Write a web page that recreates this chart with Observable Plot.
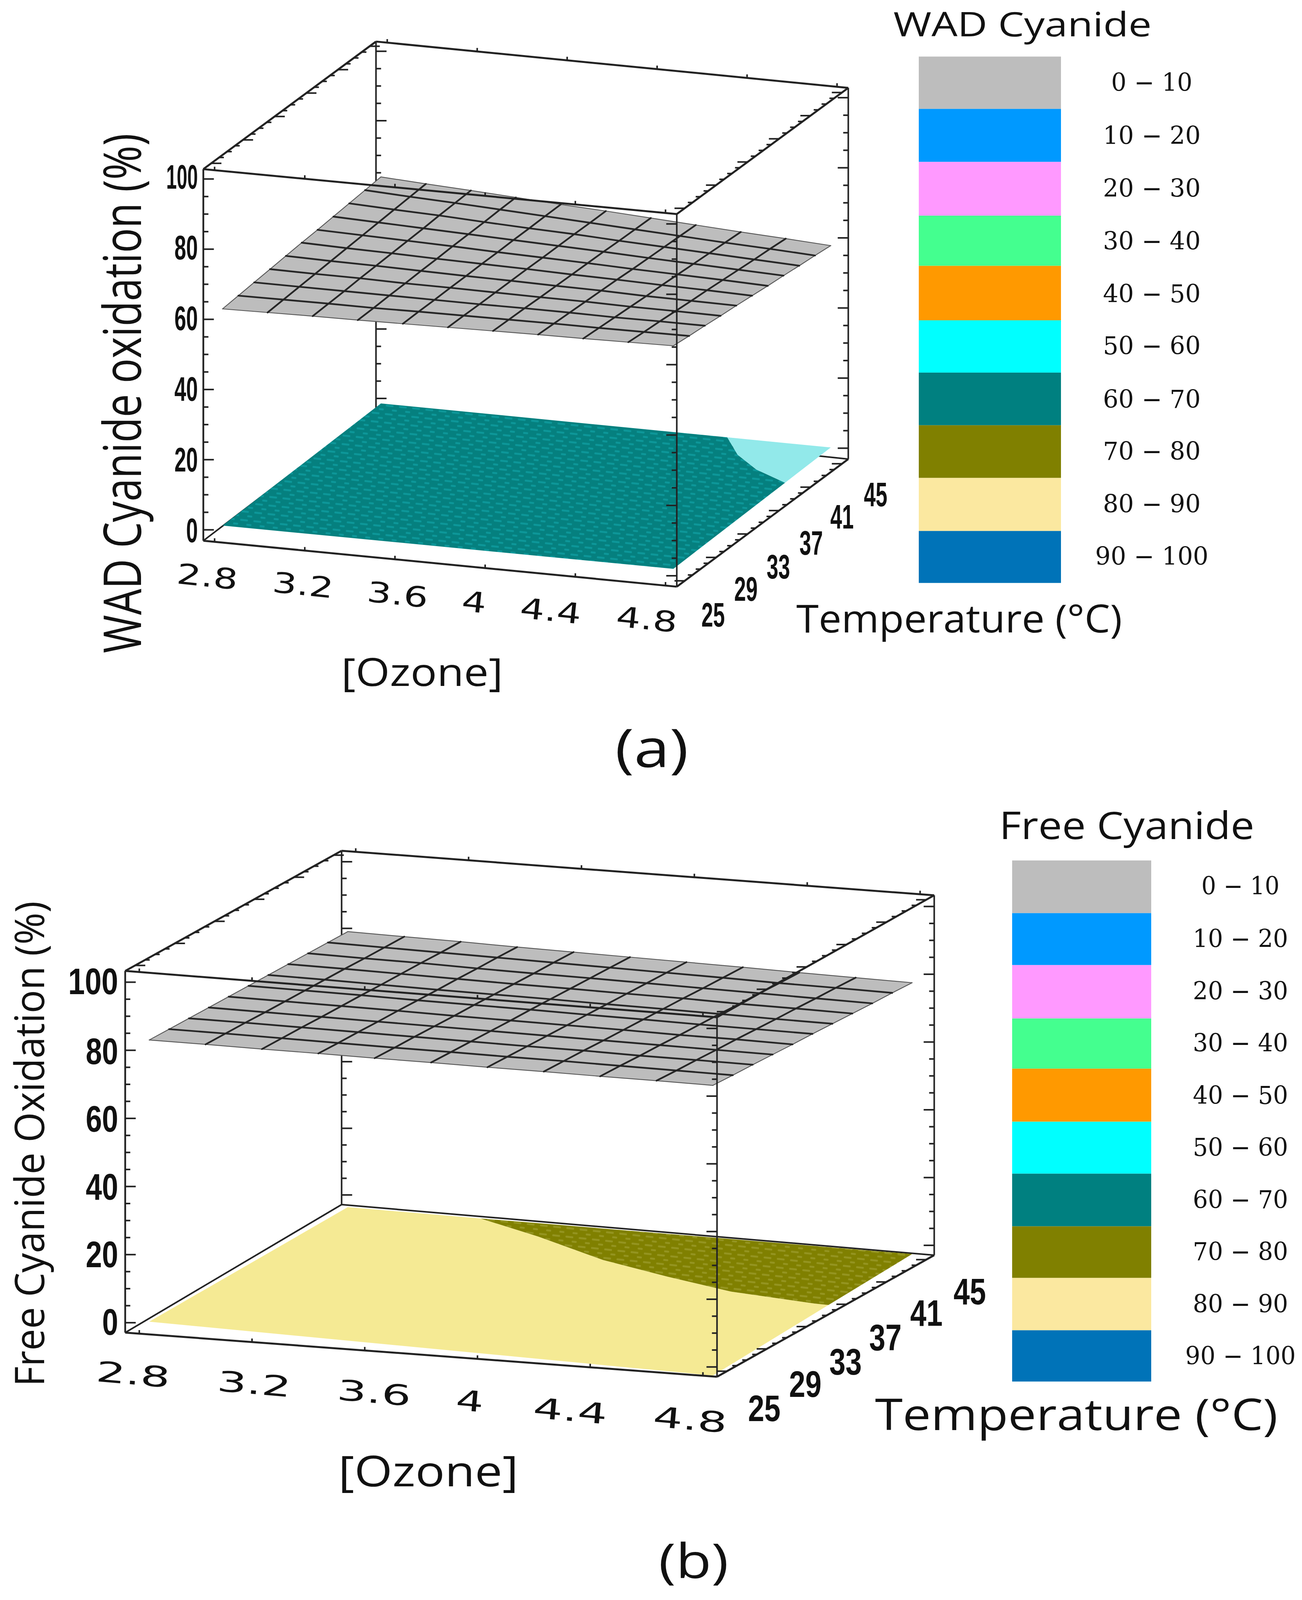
<!DOCTYPE html>
<html>
<head>
<meta charset="utf-8">
<style>html,body{margin:0;padding:0;background:#fff} svg{display:block}</style>
<script src="https://cdn.jsdelivr.net/npm/d3@7"></script>
<script src="https://cdn.jsdelivr.net/npm/@observablehq/plot@0.6"></script>
</head>
<body>
<script>
// ---------- data ----------
const ozoneLevels = [2.8,3.0,3.2,3.4,3.6,3.8,4.0,4.2,4.4,4.6,4.8];
const temperatureLevels = [25,27,29,31,33,35,37,39,41,43,45];
const ozoneTicks = [2.8,3.2,3.6,4,4.4,4.8];
const temperatureTicks = [25,29,33,37,41,45];
const oxidationTicks = [0,20,40,60,80,100];
const legendLabels = ["0 − 10","10 − 20","20 − 30","30 − 40","40 − 50","50 − 60","60 − 70","70 − 80","80 − 90","90 − 100"];
const legendColors = ["#bdbdbd","#0099ff","#ff99ff","#44ff8f","#ff9900","#00ffff","#008080","#808000","#fbe8a0","#0073b8"];

const wadUpper = [
 [61.6,61.8,62.0,62.1,62.3,62.5,62.7,62.9,63.0,63.2,63.4],
 [62.0,62.1,62.2,62.2,62.4,62.5,62.6,62.7,62.7,62.8,62.9],
 [62.4,62.4,62.4,62.4,62.4,62.4,62.5,62.5,62.4,62.5,62.5],
 [62.8,62.7,62.7,62.5,62.5,62.4,62.3,62.3,62.1,62.1,62.0],
 [63.2,63.0,62.9,62.7,62.5,62.4,62.2,62.1,61.8,61.7,61.6],
 [63.6,63.3,63.1,62.8,62.6,62.4,62.1,61.9,61.6,61.4,61.1],
 [63.9,63.6,63.3,63.0,62.6,62.3,62.0,61.6,61.3,61.0,60.6],
 [64.3,63.9,63.5,63.1,62.7,62.3,61.9,61.4,61.0,60.6,60.2],
 [64.7,64.2,63.8,63.2,62.7,62.3,61.7,61.2,60.7,60.2,59.7],
 [65.1,64.5,64.0,63.4,62.8,62.2,61.6,61.0,60.4,59.9,59.3],
 [65.5,64.8,64.2,63.5,62.8,62.2,61.5,60.8,60.1,59.5,58.8]
];
const freeUpper = [
 [81.7,81.7,81.6,81.6,81.5,81.5,81.4,81.4,81.3,81.3,81.2],
 [81.6,81.6,81.5,81.4,81.3,81.3,81.2,81.2,81.1,81.0,80.9],
 [81.5,81.5,81.4,81.3,81.2,81.1,81.0,81.0,80.8,80.8,80.7],
 [81.4,81.3,81.2,81.1,81.0,80.9,80.8,80.7,80.6,80.5,80.4],
 [81.3,81.2,81.1,81.0,80.8,80.7,80.6,80.5,80.3,80.3,80.1],
 [81.2,81.1,81.0,80.8,80.7,80.6,80.4,80.3,80.1,80.0,79.9],
 [81.1,81.0,80.8,80.6,80.5,80.4,80.2,80.1,79.9,79.7,79.6],
 [81.0,80.9,80.7,80.5,80.3,80.2,80.0,79.9,79.6,79.5,79.3],
 [80.9,80.7,80.6,80.3,80.1,80.0,79.8,79.6,79.4,79.2,79.0],
 [80.8,80.6,80.4,80.2,80.0,79.8,79.6,79.4,79.1,79.0,78.8],
 [80.7,80.5,80.3,80.0,79.8,79.6,79.4,79.2,78.9,78.7,78.5]
];
// lower response regions: ozone, temperature, oxidation along each outline
const wadTealOzone = [2.8,2.8,4.34,4.47,4.62,4.8,4.8];
const wadTealTemp  = [25,45,45,42.6,40.7,39.2,25];
const wadTealZ     = [-0.2,0.3,1.0,0.95,0.9,0.85,0];
const wadPaleOzone = [4.34,4.8,4.8,4.62,4.47];
const wadPaleTemp  = [45,45,39.2,40.7,42.6];
const wadPaleZ     = [1.0,1.2,0.85,0.9,0.95];
const freeYellowOzone = [2.8,2.8,3.27,3.545,3.87,4.157,4.43,4.75,4.8,4.8];
const freeYellowTemp  = [25,45,45,43,40.3,38.65,37.3,36.6,36.6,25];
const freeYellowZ     = [-1.1,-1.9,-1.9,-1.9,-2,-2.2,-2.5,-2.7,-2.8,-4.5];
const freeOliveOzone = [3.27,4.8,4.8,4.75,4.43,4.157,3.87,3.545];
const freeOliveTemp  = [45,45,36.6,36.6,37.3,38.65,40.3,43];
const freeOliveZ     = [-1.9,-1.6,-2.8,-2.7,-2.5,-2.2,-2,-1.9];

// ---------- layout ----------
const W = 3333, H = 4526;
// the picture fits the window's real height: the y scale and the text shrink together
const plotHeight = Math.min(H, window.innerHeight || H);
const k = plotHeight / H;
const ink = "#222";
const sansFont = "'Open Sans','Noto Sans',sans-serif";
const panels = [
 { zDomain:[-3.1,102.8],
   corners:{FLB:[520,1529],FLT:[520,478],FRB:[1732,1659],FRT:[1732,605],BLB:[962,1157],BLT:[962,117],BRB:[2171,1298],BRT:[2171,248]},
   upper:wadUpper,
   regions:[
     {fill:"url(#tealTex)",o:wadTealOzone,t:wadTealTemp,z:wadTealZ},
     {fill:"#92e9ea",o:wadPaleOzone,t:wadPaleTemp,z:wadPaleZ}],
   xTickPos:[[530,1633],[775,1657],[1017,1684],[1213,1705],[1409,1730],[1655,1754]], xTickLen:[157,63], xTickRot:6, xTickSize:80,
   tTickPos:[[1825,1741],[1909,1668],[1992,1605],[2076,1538],[2155,1463],[2241,1401]], numW:60, numSize:97,
   zTickPos:[[506,1502],[506,1302],[506,1102],[506,902],[506,702],[506,502]], zLen:[30,60,81],
   yTitle:{text:"WAD Cyanide oxidation (%)",x:318,y:1112,len:1470,size:133},
   ozone:{x:1080,y:1905,len:414,size:110},
   temp:{x:2455,y:1753,len:834,size:110},
   tag:{text:"(a)",x:1668,y:2122,len:188,size:150},
   legTitle:{text:"WAD Cyanide",x:2617,y:72,len:661,size:96},
   legX:[2352,2716], legEdges:[160,308,458,610,752,906,1054,1203,1352,1502,1649],
   legLabelX:2948, legLabelY:[235,385,534,683,832,979,1131,1278,1427,1575], legLen:[208,250,290]
 },
 { zDomain:[-2.9,103.3],
   corners:{FLB:[320,3769],FLT:[320,2746],FRB:[1835,3894],FRT:[1835,2877],BLB:[874,3407],BLT:[874,2406],BRB:[2391,3550],BRT:[2391,2532]},
   upper:freeUpper,
   regions:[
     {fill:"#f5ea94",o:freeYellowOzone,t:freeYellowTemp,z:freeYellowZ},
     {fill:"url(#oliveTex)",o:freeOliveOzone,t:freeOliveTemp,z:freeOliveZ}],
   xTickPos:[[340,3890],[650,3917],[957,3942],[1202,3965],[1459,3993],[1766,4018]], xTickLen:[190,71], xTickRot:5, xTickSize:80,
   tTickPos:[[1956,3986],[2061,3917],[2164,3854],[2266,3786],[2371,3716],[2482,3655]], numW:83, numSize:105,
   zTickPos:[[302,3741],[302,3550],[302,3359],[302,3167],[302,2976],[302,2778]], zLen:[41,83,128],
   yTitle:{text:"Free Cyanide Oxidation (%)",x:79,y:3235,len:1373,size:105},
   ozone:{x:1096,y:4165,len:461,size:120},
   temp:{x:2755,y:4005,len:1031,size:124},
   tag:{text:"(b)",x:1775,y:4420,len:179,size:135},
   legTitle:{text:"Free Cyanide",x:2884,y:2338,len:653,size:108},
   legX:[2591,2947], legEdges:[2434,2583,2730,2881,3023,3173,3320,3469,3615,3763,3908],
   legLabelX:3175, legLabelY:[2507,2657,2805,2952,3100,3247,3395,3542,3690,3837], legLen:[200,244,283]
 }
];

const textLengths = [];
function panelMarks(p){
  const [zMin,zMax] = p.zDomain;
  const c = p.corners;
  const ozMin = 2.75, ozMax = 4.85, tMin = 24, tMax = 45.8;
  const lerp = (a,b,f)=>[a[0]+(b[0]-a[0])*f, a[1]+(b[1]-a[1])*f];
  // trilinear projection of (ozone, temperature, oxidation) on the drawn box
  const project = (o,t,z)=>{
    const u=(o-ozMin)/(ozMax-ozMin), v=(t-tMin)/(tMax-tMin), w=(z-zMin)/(zMax-zMin);
    const bottom = lerp(lerp(c.FLB,c.FRB,u), lerp(c.BLB,c.BRB,u), v);
    const top    = lerp(lerp(c.FLT,c.FRT,u), lerp(c.BLT,c.BRT,u), v);
    return lerp(bottom,top,w);
  };
  const label = (rows,opts)=>{
    const vertical = opts.rotate === -90;
    rows.forEach(r=>textLengths.push(vertical ? r.len*k : r.len));
    return Plot.text(rows,{x:"x",y:"y",text:"text",rotate:opts.rotate||0,fontSize:vertical?opts.size:opts.size*k,fontFamily:opts.family||sansFont,fontWeight:opts.weight||"normal",fill:opts.fill||"#111",textAnchor:opts.anchor||"middle",lineAnchor:"middle"});
  };
  const seg = (a,b,sw=5)=>Plot.link([0],{x1:()=>c[a][0],y1:()=>c[a][1],x2:()=>c[b][0],y2:()=>c[b][1],stroke:ink,strokeWidth:sw});
  const links = (rows,sw=4)=>Plot.link(rows,{x1:"x1",y1:"y1",x2:"x2",y2:"y2",stroke:ink,strokeWidth:sw});

  // ticks
  const zVals = d3.range(0,101,5);
  const zTickRows = (u,v,dir)=>zVals.map(z=>{
    const base = lerp(lerp(lerp(c.FLB,c.FRB,u),lerp(c.BLB,c.BRB,u),v),lerp(lerp(c.FLT,c.FRT,u),lerp(c.BLT,c.BRT,u),v),(z-zMin)/(zMax-zMin));
    const len = z%20===0?27:13;
    return {x1:base[0],y1:base[1],x2:base[0]+dir*len,y2:base[1]};
  });
  const tVals = d3.range(25,46,1);
  const tTickRows = (a,b,dir)=>tVals.map(t=>{
    const base = lerp(c[a],c[b],(t-tMin)/(tMax-tMin));
    const len = (t-25)%4===0?26:12;
    return {x1:base[0],y1:base[1],x2:base[0]+dir*len,y2:base[1]};
  });
  const oTickRows = (a,b)=>ozoneTicks.map(o=>{
    const base = lerp(c[a],c[b],(o-ozMin)/(ozMax-ozMin));
    return {x1:base[0],y1:base[1],x2:base[0],y2:base[1]-10};
  });

  // surfaces
  const regionRows = r=>r.o.map((o,i)=>{const q=project(o,r.t[i],r.z[i]);return {x:q[0],y:q[1]};});
  const mat = p.upper, n = ozoneLevels.length;
  const perim = [];
  for(let i=0;i<n;i++) perim.push([ozoneLevels[i],temperatureLevels[0],mat[0][i]]);
  for(let j=1;j<n;j++) perim.push([ozoneLevels[n-1],temperatureLevels[j],mat[j][n-1]]);
  for(let i=n-2;i>=0;i--) perim.push([ozoneLevels[i],temperatureLevels[n-1],mat[n-1][i]]);
  for(let j=n-2;j>0;j--) perim.push([ozoneLevels[0],temperatureLevels[j],mat[j][0]]);
  const perimRows = perim.map(a=>{const q=project(...a);return {x:q[0],y:q[1]};});
  const mesh = [];
  temperatureLevels.forEach((t,j)=>ozoneLevels.forEach((o,i)=>{const q=project(o,t,mat[j][i]);mesh.push({x:q[0],y:q[1],k:"t"+j,edge:j===0||j===n-1});}));
  ozoneLevels.forEach((o,i)=>temperatureLevels.forEach((t,j)=>{const q=project(o,t,mat[j][i]);mesh.push({x:q[0],y:q[1],k:"o"+i,edge:i===0||i===n-1});}));

  // legend
  const legendRows = legendLabels.map((l,i)=>({label:l,y1:p.legEdges[i],y2:p.legEdges[i+1]}));

  return [
    seg("FLB","BLB",4), seg("BLB","BRB",4), seg("BLT","BLB",4), seg("BRT","BRB",4),
    links(zTickRows(0,1,1)), links(zTickRows(1,1,-1)),
    ...p.regions.map(r=>Plot.line(regionRows(r),{x:"x",y:"y",fill:r.fill,stroke:"none"})),
    Plot.line(perimRows,{x:"x",y:"y",fill:"#bdbdbd",stroke:"none"}),
    Plot.line(mesh.filter(d=>d.edge),{x:"x",y:"y",z:"k",stroke:"#555",strokeWidth:2.2}),
    Plot.line(mesh.filter(d=>!d.edge),{x:"x",y:"y",z:"k",stroke:"#262626",strokeWidth:4.4}),
    seg("BLT","BRT"), seg("FLT","BLT"), seg("FRT","BRT"), seg("FLT","FRT"),
    seg("FLB","FRB"), seg("FRB","BRB"), seg("FLT","FLB",4.5), seg("FRT","FRB",4),
    links(zTickRows(0,0,1)), links(zTickRows(1,0,-1)),
    links(tTickRows("FLT","BLT",1)), links(tTickRows("FRT","BRT",-1)), links(tTickRows("FRB","BRB",-1)),
    links(oTickRows("FLB","FRB")), links(oTickRows("FLT","FRT")), links(oTickRows("BLT","BRT")),
    Plot.rect(legendRows,{x1:()=>p.legX[0],x2:()=>p.legX[1],y1:"y1",y2:"y2",fill:"label"}),
    label(ozoneTicks.map((o,i)=>({text:String(o),x:p.xTickPos[i][0],y:p.xTickPos[i][1],len:String(o).length>1?p.xTickLen[0]:p.xTickLen[1]})),{size:p.xTickSize,family:"'DejaVu Sans',sans-serif",rotate:p.xTickRot}),
    label(temperatureTicks.map((t,i)=>({text:String(t),x:p.tTickPos[i][0],y:p.tTickPos[i][1],len:p.numW})),{size:p.numSize,family:"'Liberation Sans',Arial,sans-serif",weight:"bold"}),
    label(oxidationTicks.map((z,i)=>({text:String(z),x:p.zTickPos[i][0],y:p.zTickPos[i][1],len:p.zLen[String(z).length-1]})),{size:p.numSize,family:"'Liberation Sans',Arial,sans-serif",weight:"bold",anchor:"end"}),
    label([p.yTitle],{size:p.yTitle.size,rotate:-90}),
    label([{text:"[Ozone]",...p.ozone}],{size:p.ozone.size}),
    label([{text:"Temperature (°C)",...p.temp}],{size:p.temp.size}),
    label([p.tag],{size:p.tag.size}),
    label([p.legTitle],{size:p.legTitle.size}),
    label(legendLabels.map((l,i)=>({text:l,x:p.legLabelX,y:p.legLabelY[i],len:p.legLen[i===0?0:(i===9?2:1)]})),{size:70,family:"'DejaVu Serif',serif"})
  ];
}
const svg = Plot.plot({
  width:W, height:plotHeight,
  marginTop:0,marginRight:0,marginBottom:0,marginLeft:0,
  x:{domain:[0,W],range:[0,W],axis:null},
  y:{domain:[0,H],range:[0,plotHeight],axis:null},
  color:{type:"ordinal",domain:legendLabels,range:legendColors,legend:false},
  style:{background:"#fff"},
  marks:panels.flatMap(panelMarks)
});
svg.querySelectorAll("text").forEach((t,i)=>{
  if(textLengths[i]){t.setAttribute("textLength",textLengths[i]);t.setAttribute("lengthAdjust","spacingAndGlyphs");}
});
// woven texture of the fine response mesh on the lower surfaces
const defs = d3.select(svg).insert("defs",":first-child");
const texture = (id,base,light)=>{
  const pat = defs.append("pattern").attr("id",id).attr("patternUnits","userSpaceOnUse")
    .attr("width",34).attr("height",22).attr("patternTransform","rotate(6)");
  pat.append("rect").attr("width",34).attr("height",22).attr("fill",base);
  pat.append("rect").attr("x",2).attr("y",2).attr("width",20).attr("height",5).attr("rx",2).attr("fill",light);
  pat.append("rect").attr("x",19).attr("y",13).attr("width",13).attr("height",5).attr("rx",2).attr("fill",light);
};
texture("tealTex","#05807f","#0d9799");
texture("oliveTex","#808000","#949420");
document.body.appendChild(svg);
</script>
</body>
</html>
